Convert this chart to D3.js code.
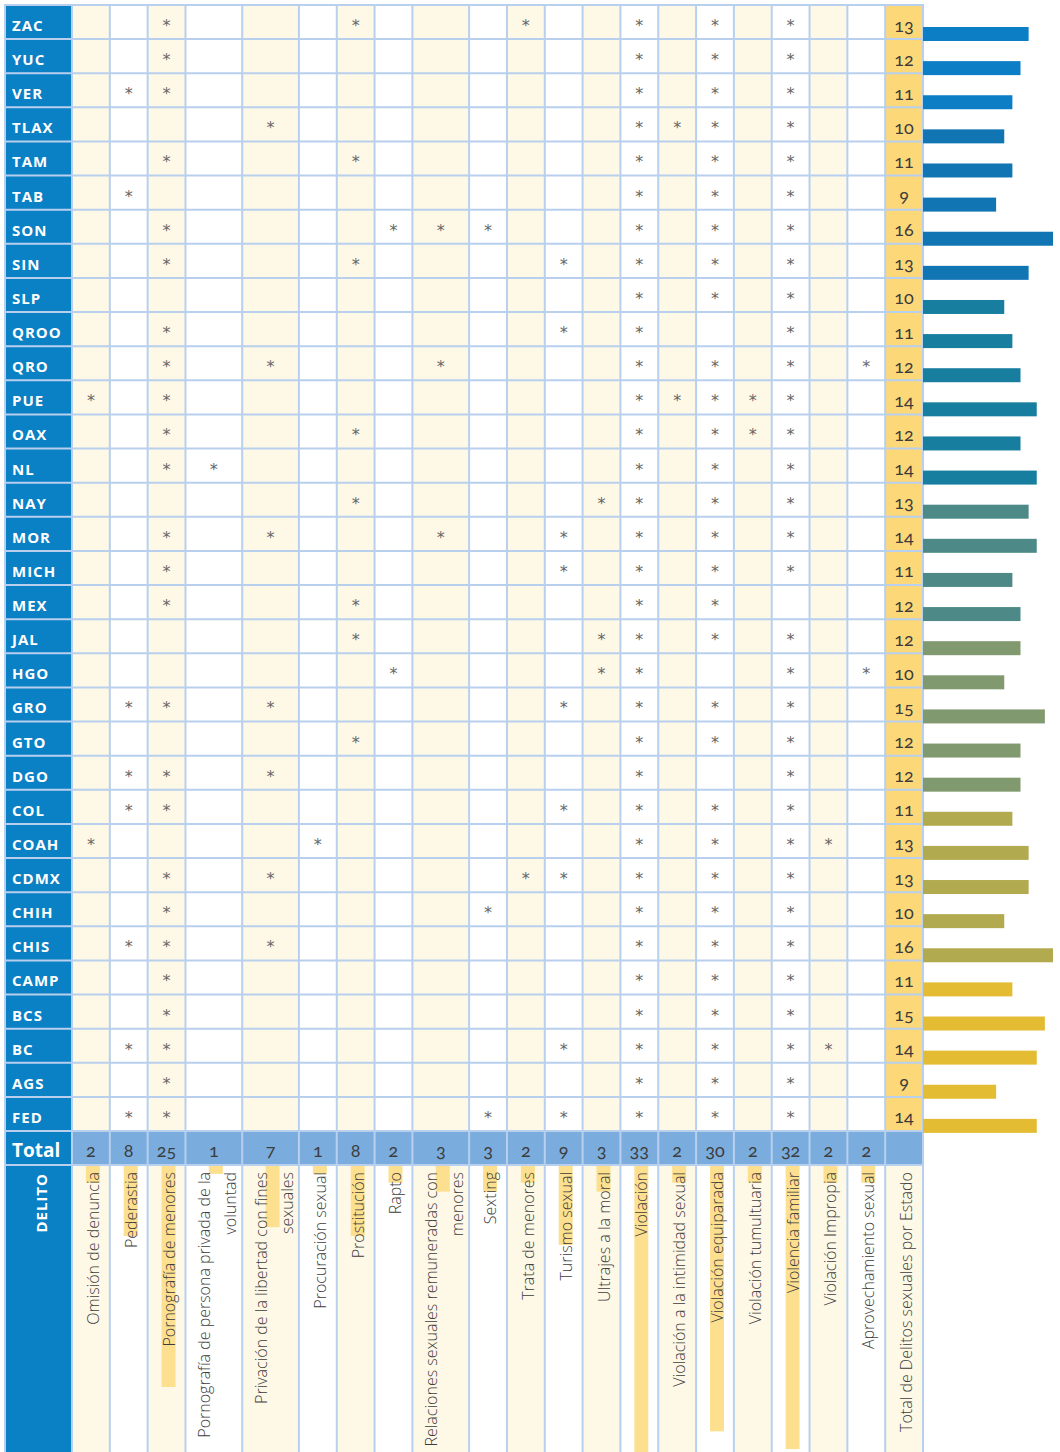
<!DOCTYPE html>
<html>
<head>
<meta charset="utf-8">
<script src="https://cdn.jsdelivr.net/npm/d3@7"></script>
<style>
  body { margin: 0; background: #fff; }
  svg { display: block; }
</style>
</head>
<body>
<div id="chart"></div>
<script>
// states, top to bottom
var states = ["ZAC", "YUC", "VER", "TLAX", "TAM", "TAB", "SON", "SIN", "SLP", "QROO", "QRO", "PUE", "OAX",
  "NL", "NAY", "MOR", "MICH", "MEX", "JAL", "HGO", "GRO", "GTO", "DGO", "COL", "COAH", "CDMX", "CHIH",
  "CHIS", "CAMP", "BCS", "BC", "AGS", "FED"];

// crime names (split in lines as printed)
var crimeLabels = [
  ["Omisión de denuncia"],
  ["Pederastia"],
  ["Pornografía de menores"],
  ["Pornografía de persona privada de la", "voluntad"],
  ["Privación de la libertad con fines", "sexuales"],
  ["Procuración sexual"],
  ["Prostitución"],
  ["Rapto"],
  ["Relaciones sexuales remuneradas con", "menores"],
  ["Sexting"],
  ["Trata de menores"],
  ["Turismo sexual"],
  ["Ultrajes a la moral"],
  ["Violación"],
  ["Violación a la intimidad sexual"],
  ["Violación equiparada"],
  ["Violación tumultuaria"],
  ["Violencia familiar"],
  ["Violación Impropia"],
  ["Aprovechamiento sexual"]
];

// one char per crime column: 1 = typified in that state (*)
var presence = [
  "00100010001001010100", // ZAC
  "00100000000001010100", // YUC
  "01100000000001010100", // VER
  "00001000000001110100", // TLAX
  "00100010000001010100", // TAM
  "01000000000001010100", // TAB
  "00100001110001010100", // SON
  "00100010000101010100", // SIN
  "00000000000001010100", // SLP
  "00100000000101000100", // QROO
  "00101000100001010101", // QRO
  "10100000000001111100", // PUE
  "00100010000001011100", // OAX
  "00110000000001010100", // NL
  "00000010000011010100", // NAY
  "00101000100101010100", // MOR
  "00100000000101010100", // MICH
  "00100010000001010000", // MEX
  "00000010000011010100", // JAL
  "00000001000011000101", // HGO
  "01101000000101010100", // GRO
  "00000010000001010100", // GTO
  "01101000000001000100", // DGO
  "01100000000101010100", // COL
  "10000100000001010110", // COAH
  "00101000001101010100", // CDMX
  "00100000010001010100", // CHIH
  "01101000000001010100", // CHIS
  "00100000000001010100", // CAMP
  "00100000000001010100", // BCS
  "01100000000101010110", // BC
  "00100000000001010100", // AGS
  "01100000010101010100"  // FED
];

var stateTotals = [13, 12, 11, 10, 11, 9, 16, 13, 10, 11, 12, 14, 12, 14, 13, 14, 11, 12, 12, 10, 15, 12, 12,
  11, 13, 13, 10, 16, 11, 15, 14, 9, 14];

var crimeTotals = [2, 8, 25, 1, 7, 1, 8, 2, 3, 3, 2, 9, 3, 33, 2, 30, 2, 32, 2, 2];

var totalColLabel = "Total de Delitos sexuales por Estado";

// layout
var width = 1060, height = 1452;
var tableLeft = 5, tableTop = 5, firstCol = 72, tableRight = 923;
var rowsBottom = 1131, totalRowH = 34, labelTop = rowsBottom + totalRowH;

var blue = "#0a80c5", lightBlue = "#7aadde", cream = "#fef8e7", orange = "#fdd879";
var gridColor = "#b8d0ee", textColor = "#3c3c3c", markColor = "#666", highlight = "#fde08f";
var labelFont = "'Open Sans', 'Noto Sans', sans-serif";

var svg = d3.select("#chart")
    .append("svg")
    .attr("width", width)
    .attr("height", height);

// two-line labels get wider columns
var units = crimeLabels.map(l => l.length > 1 ? 1.5 : 1);
var colStart = units.map((u, i) => d3.sum(units.slice(0, i)));
var totalStart = d3.sum(units);

var x = d3.scaleLinear()
    .domain([0, totalStart + 1])
    .range([firstCol, tableRight]);

var y = d3.scaleBand()
    .domain(states)
    .range([tableTop, rowsBottom]);

var barX = d3.scaleLinear().domain([0, 16]).range([0, 130]);
var hlLen = d3.scaleLinear().domain([0, 33]).range([0, 293]);

var barColor = d3.scaleThreshold()
    .domain([3, 8, 14, 18, 23, 28])
    .range(["#0b7ec5", "#1175b3", "#177e9f", "#4d8a87", "#81996f", "#b2aa4f", "#e4bc33"]);

var cols = crimeLabels.map((l, i) => ({
    label: l,
    x0: x(colStart[i]),
    x1: x(colStart[i] + units[i]),
    total: crimeTotals[i],
    i: i
}));
cols.forEach(c => c.cx = (c.x0 + c.x1) / 2);

// backgrounds
svg.append("rect")
    .attr("x", tableLeft).attr("y", tableTop)
    .attr("width", firstCol - tableLeft).attr("height", height - tableTop)
    .attr("fill", blue);

svg.selectAll(".colbg")
    .data(cols)
    .enter()
    .append("rect")
    .attr("x", d => d.x0).attr("y", tableTop)
    .attr("width", d => d.x1 - d.x0).attr("height", height - tableTop)
    .attr("fill", d => d.i % 2 == 0 ? cream : "#fff");

svg.append("rect")
    .attr("x", x(totalStart)).attr("y", tableTop)
    .attr("width", tableRight - x(totalStart)).attr("height", rowsBottom - tableTop)
    .attr("fill", orange);
svg.append("rect")
    .attr("x", x(totalStart)).attr("y", labelTop)
    .attr("width", tableRight - x(totalStart)).attr("height", height - labelTop)
    .attr("fill", cream);

svg.append("rect")
    .attr("x", firstCol).attr("y", rowsBottom)
    .attr("width", tableRight - firstCol).attr("height", totalRowH)
    .attr("fill", lightBlue);

// label highlights (length = total per crime)
svg.selectAll(".hl")
    .data(cols)
    .enter()
    .append("rect")
    .attr("x", d => d.cx + 2 - 7)
    .attr("y", labelTop)
    .attr("width", 14)
    .attr("height", d => hlLen(d.total))
    .attr("fill", highlight);

// grid
var vLines = [tableLeft, firstCol].concat(cols.map(c => c.x0), [x(totalStart), tableRight]);
svg.selectAll(".vline")
    .data(vLines)
    .enter()
    .append("line")
    .attr("x1", d => d).attr("x2", d => d)
    .attr("y1", tableTop).attr("y2", height)
    .attr("stroke", gridColor)
    .attr("stroke-width", 2);

var hLines = states.map(s => y(s)).concat([rowsBottom, labelTop]);
svg.selectAll(".hline")
    .data(hLines)
    .enter()
    .append("line")
    .attr("x1", tableLeft - 1).attr("x2", tableRight + 1)
    .attr("y1", d => d).attr("y2", d => d)
    .attr("stroke", gridColor)
    .attr("stroke-width", 2);

// state names
svg.selectAll(".state")
    .data(states)
    .enter()
    .append("text")
    .attr("x", 12)
    .attr("y", d => y(d) + 26)
    .style("font", "bold 15px " + labelFont)
    .style("letter-spacing", "1px")
    .attr("fill", "#fff")
    .text(d => d);

// asterisks
var marks = [];
presence.forEach((row, r) => {
    row.split("").forEach((v, c) => {
        if (v == "1") marks.push({ state: states[r], col: cols[c] });
    });
});
svg.selectAll(".mark")
    .data(marks)
    .enter()
    .append("text")
    .attr("x", d => d.col.cx)
    .attr("y", d => y(d.state) + 26)
    .attr("text-anchor", "middle")
    .style("font", "16px 'DejaVu Sans', sans-serif")
    .attr("fill", markColor)
    .text("*");

// totals per state
var numFont = "18px Lato, 'Open Sans', sans-serif";
var totalCx = (x(totalStart) + tableRight) / 2;
svg.selectAll(".stotal")
    .data(states)
    .enter()
    .append("text")
    .attr("x", totalCx)
    .attr("y", (d, i) => y(d) + 26.5)
    .attr("text-anchor", "middle")
    .style("font", numFont)
    .style("font-variant-numeric", "oldstyle-nums")
    .style("font-feature-settings", "'onum' 1")
    .attr("fill", textColor)
    .text((d, i) => stateTotals[i]);

// bars per state
svg.selectAll(".bar")
    .data(states)
    .enter()
    .append("rect")
    .attr("x", tableRight)
    .attr("y", d => y(d) + 22)
    .attr("width", (d, i) => barX(stateTotals[i]))
    .attr("height", 14)
    .attr("fill", (d, i) => barColor(i));

// total row
svg.append("text")
    .attr("x", 12)
    .attr("y", rowsBottom + 26)
    .style("font", "bold 19px " + labelFont)
    .attr("fill", "#fff")
    .text("Total");

svg.selectAll(".ctotal")
    .data(cols)
    .enter()
    .append("text")
    .attr("x", d => d.cx)
    .attr("y", rowsBottom + 26)
    .attr("text-anchor", "middle")
    .style("font", numFont)
    .style("font-variant-numeric", "oldstyle-nums")
    .style("font-feature-settings", "'onum' 1")
    .attr("fill", textColor)
    .text(d => d.total);

// DELITO
svg.append("text")
    .attr("transform", `translate(47, ${labelTop + 8}) rotate(-90)`)
    .attr("text-anchor", "end")
    .style("font", "bold 15px " + labelFont)
    .style("letter-spacing", "1px")
    .attr("fill", "#fff")
    .text("DELITO");

// crime labels, rotated
var lbl = svg.selectAll(".clabel")
    .data(cols)
    .enter()
    .append("g");

lbl.selectAll("text")
    .data(d => d.label.map((t, k) => ({
        t: t,
        bx: d.label.length > 1 ? d.cx + (k == 0 ? -3.5 : 22.5) : d.cx + 8
    })))
    .enter()
    .append("text")
    .attr("transform", d => `translate(${d.bx}, ${labelTop + 7}) rotate(-90)`)
    .attr("text-anchor", "end")
    .style("font", "300 16px " + labelFont)
    .attr("fill", textColor)
    .text(d => d.t);

svg.append("text")
    .attr("transform", `translate(${totalCx + 8}, ${labelTop + 7}) rotate(-90)`)
    .attr("text-anchor", "end")
    .style("font", "300 16px " + labelFont)
    .attr("fill", textColor)
    .text(totalColLabel);
</script>
</body>
</html>
